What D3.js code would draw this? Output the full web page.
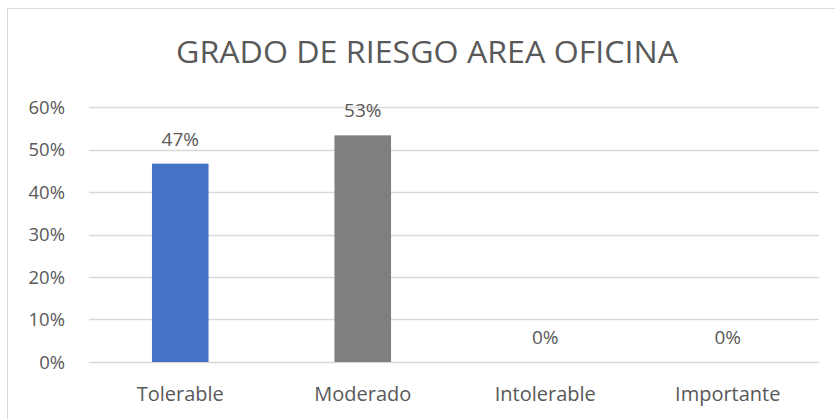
<!DOCTYPE html>
<html>
<head>
<meta charset="utf-8">
<script src="https://cdn.jsdelivr.net/npm/d3@7"></script>
<style>
  html, body { margin: 0; padding: 0; background: #ffffff; }
  svg { display: block; }
</style>
</head>
<body>
<svg id="chart" width="835" height="419"></svg>
<script>
const title = "GRADO DE RIESGO AREA OFICINA";
const categories = ["Tolerable", "Moderado", "Intolerable", "Importante"];
const values = [0.4667, 0.5333, 0, 0];
const barColors = ["#4472C4", "#7F7F7F", "#A5A5A5", "#FFC000"];
const yTicks = [0, 0.1, 0.2, 0.3, 0.4, 0.5, 0.6];

const svg = d3.select("#chart");
const plot = { left: 89, right: 819, top: 107, bottom: 362 };
const textColor = "#595959";
const font = "'Open Sans', 'Noto Sans', sans-serif";

// chart border
svg.append("rect")
  .attr("x", 7.5).attr("y", 8.5)
  .attr("width", 840).attr("height", 420)
  .attr("fill", "#ffffff")
  .attr("stroke", "#D9D9D9").attr("stroke-width", 1);

// title
svg.append("text")
  .attr("x", 427).attr("y", 63)
  .attr("text-anchor", "middle")
  .attr("font-family", font)
  .attr("font-size", 31)
  .attr("fill", textColor)
  .attr("textLength", 502)
  .attr("lengthAdjust", "spacingAndGlyphs")
  .text(title);

const x = d3.scaleBand()
  .domain(categories)
  .range([plot.left, plot.right])
  .paddingInner(0.69)
  .paddingOuter(0.345);

const y = d3.scaleLinear()
  .domain([0, 0.6])
  .range([plot.bottom, plot.top]);

// gridlines
svg.append("g")
  .selectAll("line")
  .data(yTicks)
  .join("line")
  .attr("x1", plot.left).attr("x2", plot.right)
  .attr("y1", d => Math.round(y(d)) + 0.5)
  .attr("y2", d => Math.round(y(d)) + 0.5)
  .attr("stroke", "#D9D9D9")
  .attr("stroke-width", 1.3);

// y axis labels
const yAxis = d3.axisLeft(y)
  .tickValues(yTicks)
  .tickFormat(d3.format(".0%"))
  .tickSize(0)
  .tickPadding(0);
const gy = svg.append("g")
  .attr("transform", `translate(${plot.left - 24},0)`)
  .call(yAxis);
gy.select(".domain").remove();
gy.selectAll("text")
  .attr("font-family", font)
  .attr("font-size", 18.5)
  .attr("fill", textColor)
  .attr("dy", "0.35em");

// x axis labels
const xAxis = d3.axisBottom(x).tickSize(0).tickPadding(0);
const gx = svg.append("g")
  .attr("transform", `translate(0,${plot.bottom})`)
  .call(xAxis);
gx.select(".domain").remove();
gx.selectAll("text")
  .attr("font-family", font)
  .attr("font-size", 20)
  .attr("fill", textColor)
  .attr("y", 39)
  .attr("dy", 0);

// bars
svg.append("g")
  .selectAll("rect")
  .data(categories.map((c, i) => ({ c, v: values[i], color: barColors[i] })))
  .join("rect")
  .attr("x", d => x(d.c))
  .attr("width", x.bandwidth())
  .attr("y", d => y(d.v))
  .attr("height", d => y(0) - y(d.v))
  .attr("fill", d => d.color);

// data labels
svg.append("g")
  .selectAll("text")
  .data(categories.map((c, i) => ({ c, v: values[i] })))
  .join("text")
  .attr("x", d => x(d.c) + x.bandwidth() / 2)
  .attr("y", d => y(d.v) - 18)
  .attr("text-anchor", "middle")
  .attr("font-family", font)
  .attr("font-size", 19)
  .attr("fill", textColor)
  .text(d => d3.format(".0%")(d.v));
</script>
</body>
</html>
